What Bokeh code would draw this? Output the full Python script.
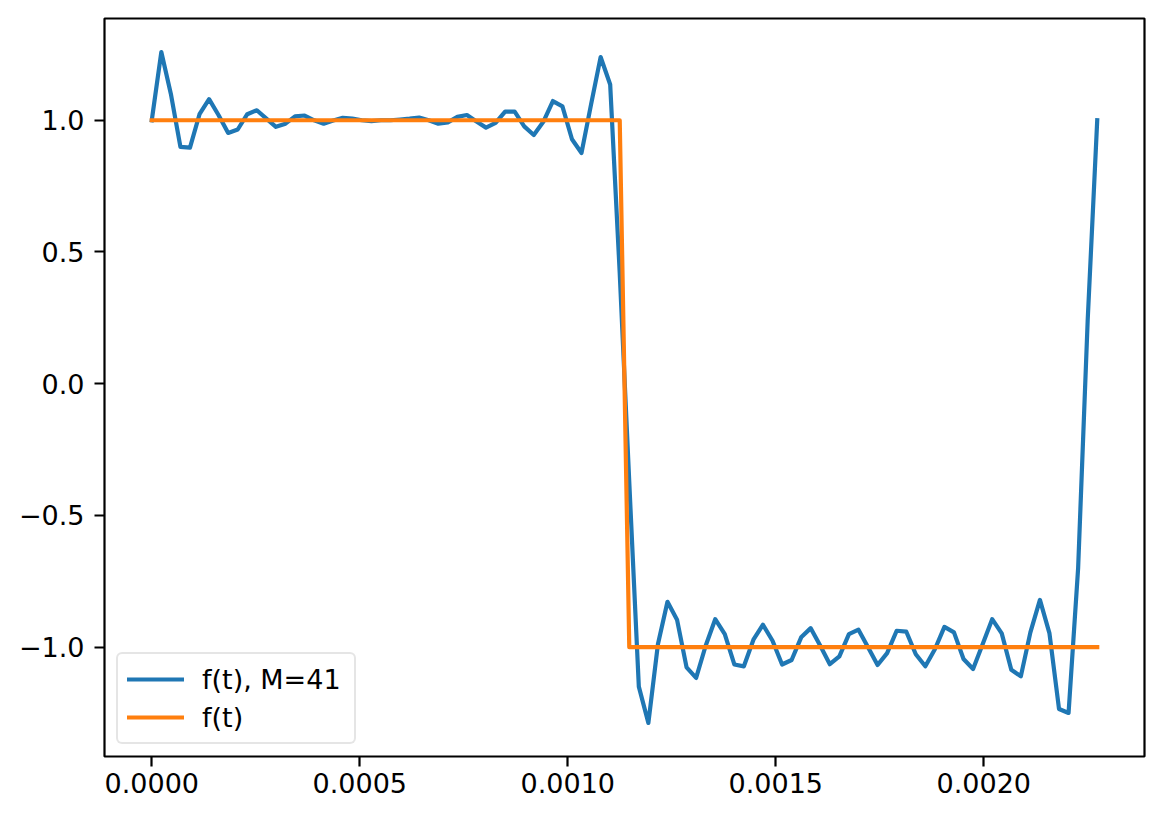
import numpy as np
from bokeh.plotting import figure
from bokeh.models import Range1d, FixedTicker, Legend, LegendItem, ColumnDataSource
from bokeh.embed import file_html
from bokeh.resources import INLINE

# ---- data ----
series_names = ["f(t), M=41", "f(t)"]

f_approx = [
    1.0, 1.259, 1.10, 0.899, 0.896, 1.023, 1.080, 1.019, 0.952, 0.965,
    1.023, 1.038, 1.006, 0.975, 0.987, 1.015, 1.018, 1.0, 0.987, 0.999,
    1.009, 1.006, 1.0, 0.997, 1.0, 1.0, 1.003, 1.006, 1.01, 1.0,
    0.987, 0.992, 1.013, 1.02, 0.995, 0.972, 0.99, 1.033, 1.033, 0.977,
    0.944, 0.994, 1.073, 1.053, 0.928, 0.876, 1.06, 1.24, 1.136, 0.42,
    -0.375, -1.15, -1.288, -0.989, -0.828, -0.896, -1.077, -1.117, -0.995, -0.894,
    -0.951, -1.066, -1.073, -0.972, -0.915, -0.976, -1.066, -1.049, -0.963, -0.928,
    -0.995, -1.065, -1.035, -0.951, -0.934, -1.001, -1.068, -1.023, -0.938, -0.941,
    -1.027, -1.073, -1.008, -0.923, -0.944, -1.045, -1.083, -0.989, -0.894, -0.948,
    -1.086, -1.111, -0.944, -0.821, -0.948, -1.235, -1.25, -0.70, 0.24, 1.0,
]
f_exact = [1.0] * 50 + [-1.0] * 50

t_end = 1 / 440
t = np.linspace(0, t_end, len(f_approx))

x_ticks = [0.0, 0.0005, 0.0010, 0.0015, 0.0020]
x_tick_labels = ["0.0000", "0.0005", "0.0010", "0.0015", "0.0020"]
y_ticks = [-1.0, -0.5, 0.0, 0.5, 1.0]
y_tick_labels = ["\u22121.0", "\u22120.5", "0.0", "0.5", "1.0"]

# ---- ranges with matplotlib-like 5% margins ----
ymin, ymax = min(min(f_approx), min(f_exact)), max(max(f_approx), max(f_exact))
ypad = 0.05 * (ymax - ymin)
xpad = 0.05 * t_end

FONT = "DejaVu Sans"
FS = "27px"

p = figure(width=1156, height=814, output_backend="svg", toolbar_location=None,
           x_range=Range1d(-xpad, t_end + xpad),
           y_range=Range1d(ymin - ypad, ymax + ypad),
           min_border_left=104, min_border_right=12, min_border_top=18, min_border_bottom=58)

p.background_fill_color = "white"
p.border_fill_color = "white"
p.outline_line_color = "black"
p.outline_line_width = 2.2
p.grid.visible = False

src = ColumnDataSource(dict(t=t, fa=f_approx, fe=f_exact))
r1 = p.line("t", "fa", source=src, line_color="#1f77b4", line_width=4.2,
            line_join="round", line_cap="square")
r2 = p.line("t", "fe", source=src, line_color="#ff7f0e", line_width=4.2,
            line_join="round", line_cap="square")

for ax in (p.xaxis[0], p.yaxis[0]):
    ax.axis_line_color = None
    ax.major_tick_out = 10
    ax.major_tick_in = 0
    ax.major_tick_line_width = 2.2
    ax.major_tick_line_color = "black"
    ax.minor_tick_line_color = None
    ax.major_label_text_font = FONT
    ax.major_label_text_font_size = FS
    ax.major_label_text_color = "black"

p.xaxis[0].ticker = FixedTicker(ticks=x_ticks)
p.xaxis[0].major_label_overrides = {v: s for v, s in zip(x_ticks, x_tick_labels)}
p.xaxis[0].major_label_standoff = 6
p.yaxis[0].ticker = FixedTicker(ticks=y_ticks)
p.yaxis[0].major_label_overrides = {v: s for v, s in zip(y_ticks, y_tick_labels)}
p.yaxis[0].major_label_standoff = 10

legend = Legend(items=[LegendItem(label=series_names[0], renderers=[r1]),
                       LegendItem(label=series_names[1], renderers=[r2])],
                location="bottom_left", margin=12, padding=9, spacing=6,
                glyph_width=57, glyph_height=32, label_standoff=18, label_width=143,
                label_text_font=FONT, label_text_font_size=FS,
                label_text_color="black",
                border_line_color="#cccccc", border_line_width=2,
                background_fill_color="white", background_fill_alpha=0.8)
try:
    legend.border_radius = 6
except Exception:
    pass
p.add_layout(legend)

open("out.html", "w").write(file_html(p, INLINE))
